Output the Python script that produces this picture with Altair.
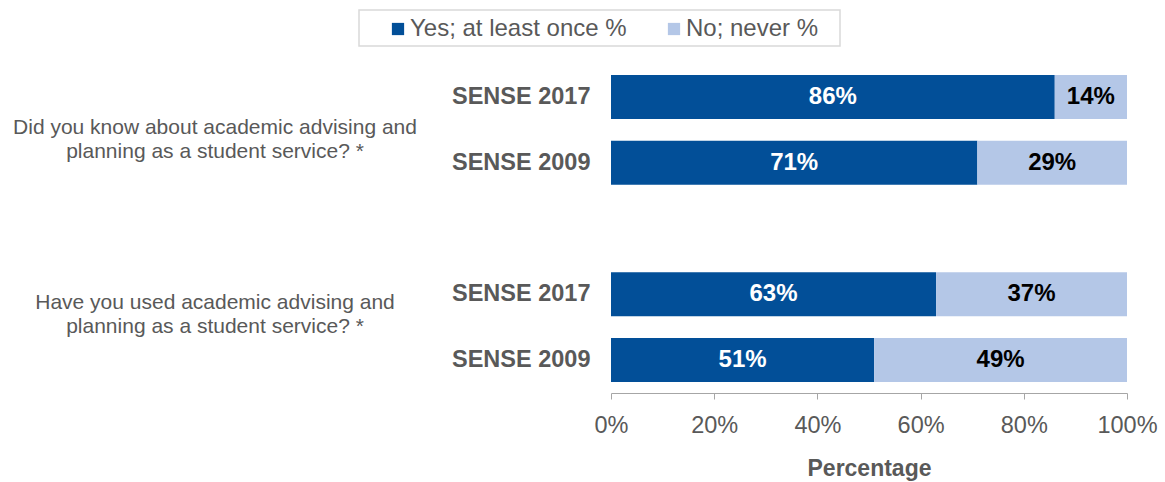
import altair as alt
import pandas as pd

# Survey items, waves and response shares (percent)
questions = [
    "Did you know about academic advising and\nplanning as a student service? *",
    "Have you used academic advising and\nplanning as a student service? *",
]
waves = ["SENSE 2017", "SENSE 2009"]
yes_pct = [86, 71, 63, 51]
no_pct = [14, 29, 37, 49]
responses = ["Yes; at least once %", "No; never %"]
colors = ["#024F98", "#B4C7E7"]

FONT = "Liberation Sans"
GREY = "#595959"

# one row per (question, wave); a blank row separates the two questions
row_keys = []
for qi in range(len(questions)):
    for w in waves:
        row_keys.append(f"q{qi + 1}|{w}")
row_domain = row_keys[:2] + ["gap"] + row_keys[2:]

records = []
for i, key in enumerate(row_keys):
    records.append({"row": key, "response": responses[0], "ord": 0, "pct": yes_pct[i]})
    records.append({"row": key, "response": responses[1], "ord": 1, "pct": no_pct[i]})
df = pd.DataFrame(records)

y_enc = alt.Y(
    "row:N",
    scale=alt.Scale(domain=row_domain, paddingInner=0.33, paddingOuter=0.167),
    axis=alt.Axis(
        title=None,
        domain=False,
        ticks=False,
        labelExpr="indexof(datum.label, '|') >= 0 ? split(datum.label, '|')[1] : ''",
        labelFont=FONT,
        labelFontSize=23.5,
        labelFontWeight="bold",
        labelColor=GREY,
        labelPadding=21,
    ),
)

base = (
    alt.Chart(df)
    .transform_stack(
        stack="pct", groupby=["row"], as_=["x0", "x1"], sort=[alt.SortField("ord")]
    )
    .transform_calculate(mid="(datum.x0 + datum.x1) / 2", lbl="datum.pct + '%'")
)

bars = base.mark_bar(size=44).encode(
    y=y_enc,
    x=alt.X(
        "x0:Q",
        scale=alt.Scale(domain=[0, 100], nice=False),
        axis=alt.Axis(
            values=[0, 20, 40, 60, 80, 100],
            labelExpr="datum.value + '%'",
            labelFlush=False,
            grid=False,
            domainColor="#A6A6A6",
            tickColor="#A6A6A6",
            tickSize=6,
            labelFont=FONT,
            labelFontSize=23.5,
            labelColor=GREY,
            labelPadding=14,
            title="Percentage",
            titleFont=FONT,
            titleFontSize=23,
            titleFontWeight="bold",
            titleColor=GREY,
            titlePadding=21,
        ),
    ),
    x2="x1:Q",
    color=alt.Color(
        "response:N",
        scale=alt.Scale(domain=responses, range=colors),
        legend=alt.Legend(
            title=None,
            orient="none",
            direction="horizontal",
            legendX=-225,
            legendY=-47,
            symbolType="square",
            symbolSize=150,
            symbolStrokeWidth=0,
            labelFont=FONT,
            labelFontSize=24,
            labelColor=GREY,
            labelOffset=0,
            columnPadding=35,
            labelLimit=400,
        ),
    ),
    order=alt.Order("ord:Q"),
)

label_style = dict(font=FONT, fontSize=24, fontWeight="bold", baseline="middle")

yes_labels = (
    base.transform_filter(alt.datum.ord == 0)
    .mark_text(color="white", **label_style)
    .encode(y=alt.Y("row:N"), x="mid:Q", text="lbl:N")
)
no_labels = (
    base.transform_filter(alt.datum.ord == 1)
    .mark_text(color="black", **label_style)
    .encode(y=alt.Y("row:N"), x="mid:Q", text="lbl:N")
)

# question captions sit to the left of each pair of bars
qdf = pd.DataFrame({"row": [row_keys[0], row_keys[2]], "q": questions})
caption_layers = []
for i, dy in enumerate([31, 9]):
    caption_layers.append(
        alt.Chart(qdf.iloc[[i]])
        .mark_text(
            font=FONT,
            fontSize=21,
            color=GREY,
            align="center",
            baseline="middle",
            lineBreak="\n",
            lineHeight=24,
            dy=dy,
        )
        .encode(y=alt.Y("row:N"), x=alt.value(-396), text="q:N")
    )

# frame around the legend
frame = (
    alt.Chart(pd.DataFrame({"k": [0]}))
    .mark_rect(fill="white", stroke="#D9D9D9", strokeWidth=1.5)
    .encode(x=alt.value(-252), x2=alt.value(229), y=alt.value(-54), y2=alt.value(-18))
)

chart = (
    alt.layer(frame, bars, yes_labels, no_labels, *caption_layers)
    .properties(
        width=516,
        height=329,
        autosize=alt.AutoSizeParams(type="none"),
        padding={"left": 611, "top": 64, "right": 38, "bottom": 89},
        background="white",
    )
    .configure_view(stroke=None)
)

chart.save("out.html", embed_options={"renderer": "svg", "actions": False})
